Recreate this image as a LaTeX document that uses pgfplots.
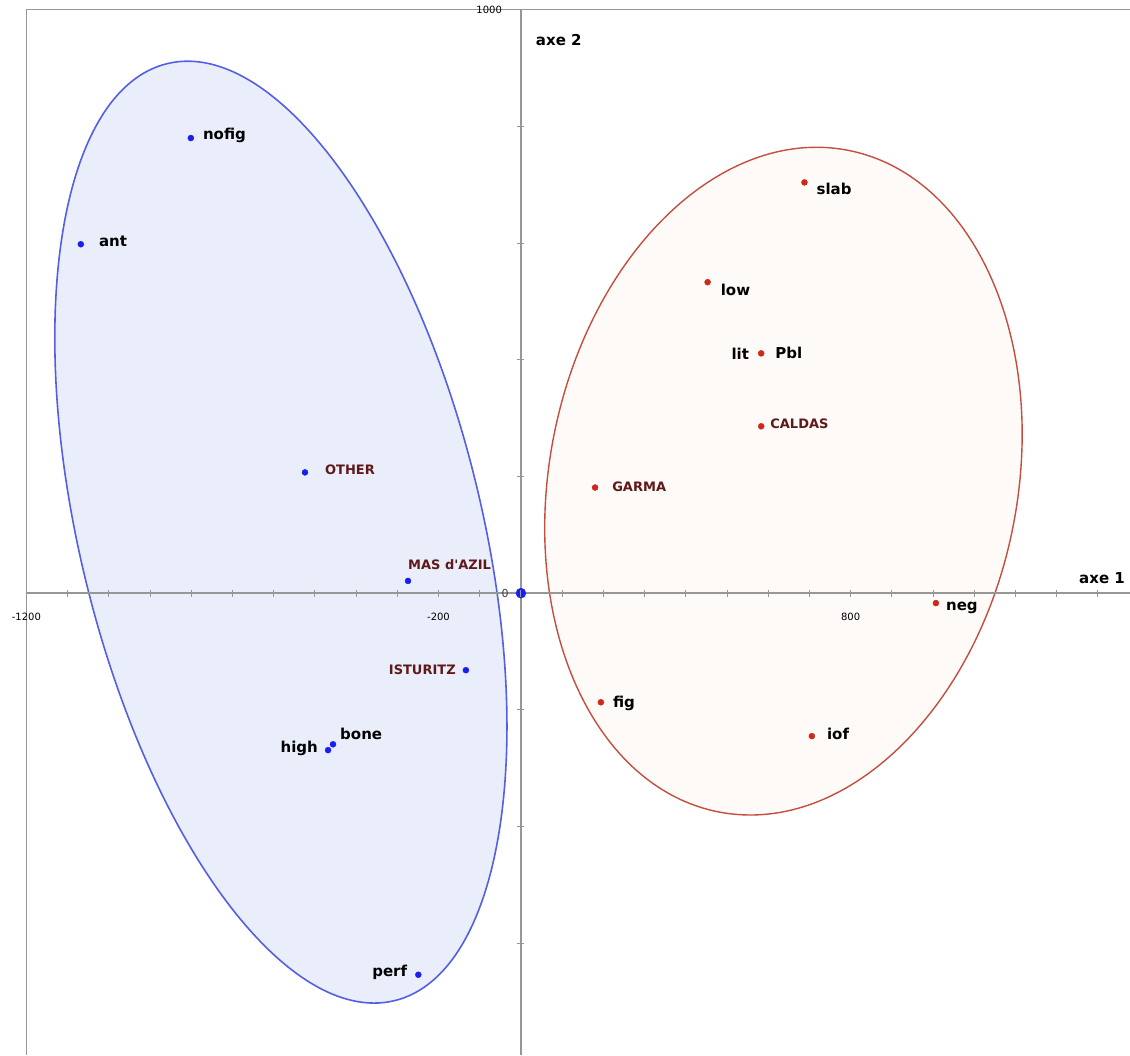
\documentclass[border=0pt]{standalone}
\usepackage{fontspec}
\setmainfont{DejaVu Sans}
\newfontfamily\sitefont{DejaVu Sans}
\usepackage{pgfplots}
\pgfplotsset{compat=1.18}

\definecolor{axisgray}{RGB}{150,150,150}
\definecolor{blueline}{RGB}{85,95,228}
\definecolor{bluefill}{RGB}{233,238,250}
\definecolor{redline}{RGB}{196,78,64}
\definecolor{redfill}{RGB}{253,250,248}
\definecolor{bluedot}{RGB}{25,30,245}
\definecolor{reddot}{RGB}{205,40,25}
\definecolor{site}{RGB}{95,25,25}
\definecolor{ticktext}{RGB}{60,60,60}

\begin{document}
\begin{tikzpicture}[
  var/.style={font=\fontsize{15}{18}\selectfont\bfseries, text=black, inner sep=0pt},
  site/.style={font=\sitefont\fontsize{13}{15}\selectfont\bfseries, text=site, inner sep=0pt},
  tick/.style={font=\fontsize{11}{13}\selectfont, text=ticktext, inner sep=0pt},
]
\begin{axis}[
  name=ax, set layers, axis on top, scale only axis,
  width=1103.3pt, height=1045.3pt,
  xmin=-1200, xmax=1478, ymin=-792, ymax=1000,
  enlargelimits=false,
  axis lines=middle,
  axis line style={draw=none},
  xtick={-1200,-200,800}, xticklabels={-1200,-200,800},
  ytick={1000}, yticklabels={1000},
  minor xtick={-1100,-1000,...,1400},
  minor ytick={-600,-400,-200,200,400,600,800},
  tick align=center,
  major tick length=7pt, minor tick length=7pt,
  every tick/.style={draw=axisgray, line width=0.9pt},
  xticklabel style={tick, anchor=center, yshift=-20pt},
  yticklabel style={tick, anchor=east, xshift=-12pt},
  clip=false,
]
% confidence ellipses of the two groups
\draw[fill=bluefill, draw=blueline, line width=1.6pt,
  rotate around={13.64:(axis cs:-582.5,104.6)}]
  (axis cs:-582.5,104.6) ellipse [x radius=201pt, y radius=482pt];
\draw[fill=redfill, draw=redline, line width=1.4pt,
  rotate around={-11.1:(axis cs:637,192)}]
  (axis cs:637,192) ellipse [x radius=234pt, y radius=337pt];

% axes through the origin, and the frame on the left and top
\draw[axisgray, line width=1.4pt] (axis cs:-1200,0) -- (axis cs:1478,0);
\draw[axisgray, line width=1.4pt] (axis cs:0,-792) -- (axis cs:0,1000);
\draw[axisgray, line width=1.4pt] (axis cs:-1200,-792) -- (axis cs:-1200,1000) -- (axis cs:1478,1000);

% group 1 (blue)
\addplot[only marks, mark=*, mark size=3pt, color=bluedot] coordinates {
  (-801,780) (-1068,598) (-524,207) (-274,21) (-133.5,-132)
  (-456,-259) (-468,-269) (-249,-654)};
% origin
\addplot[only marks, mark=*, mark size=5pt, color=bluedot] coordinates {(0,0)};
% group 2 (red)
\addplot[only marks, mark=*, mark size=3pt, color=reddot] coordinates {
  (688,704) (453,533) (583,411) (583,286) (180,181)
  (1007,-17) (194,-187) (706,-245)};

% label of the origin
\node[tick, anchor=east, xshift=-12pt] at (axis cs:0,0) {0};

% point labels
\node[var, anchor=west, xshift=12pt, yshift=3pt] at (axis cs:-801,780) {nofig};
\node[var, anchor=west, xshift=18pt, yshift=3pt] at (axis cs:-1068,598) {ant};
\node[site, anchor=west, xshift=20pt, yshift=3pt] at (axis cs:-524,207) {OTHER};
\node[site, anchor=west, xshift=0pt, yshift=16pt] at (axis cs:-274,21) {MAS d'AZIL};
\node[site, anchor=east, xshift=-10pt] at (axis cs:-133.5,-132) {ISTURITZ};
\node[var, anchor=west, xshift=7pt, yshift=10pt] at (axis cs:-456,-259) {bone};
\node[var, anchor=east, xshift=-10pt, yshift=2pt] at (axis cs:-468,-269) {high};
\node[var, anchor=east, xshift=-11pt, yshift=2.5pt] at (axis cs:-249,-654) {perf};

\node[var, anchor=west, xshift=12pt, yshift=-7pt] at (axis cs:688,704) {slab};
\node[var, anchor=west, xshift=13pt, yshift=-8pt] at (axis cs:453,533) {low};
\node[var, anchor=east, xshift=-12pt] at (axis cs:583,411) {lit};
\node[var, anchor=west, xshift=14pt] at (axis cs:583,411) {Pbl};
\node[site, anchor=west, xshift=9pt, yshift=3pt] at (axis cs:583,286) {CALDAS};
\node[site, anchor=west, xshift=17pt, yshift=1pt] at (axis cs:180,181) {GARMA};
\node[var, anchor=west, xshift=10pt, yshift=-5pt] at (axis cs:1007,-17) {neg};
\node[var, anchor=west, xshift=12pt, yshift=-1pt] at (axis cs:194,-187) {fig};
\node[var, anchor=west, xshift=15pt, yshift=2pt] at (axis cs:706,-245) {iof};

% axis names
\node[var, anchor=east] at (axis cs:1466,26) {axe 1};
\node[var, anchor=west] at (axis cs:36,948) {axe 2};
\end{axis}
\pgfresetboundingbox
\path[use as bounding box] ([xshift=-26.4pt]ax.south west) rectangle ([yshift=9.7pt]ax.north east);
\end{tikzpicture}
\end{document}
